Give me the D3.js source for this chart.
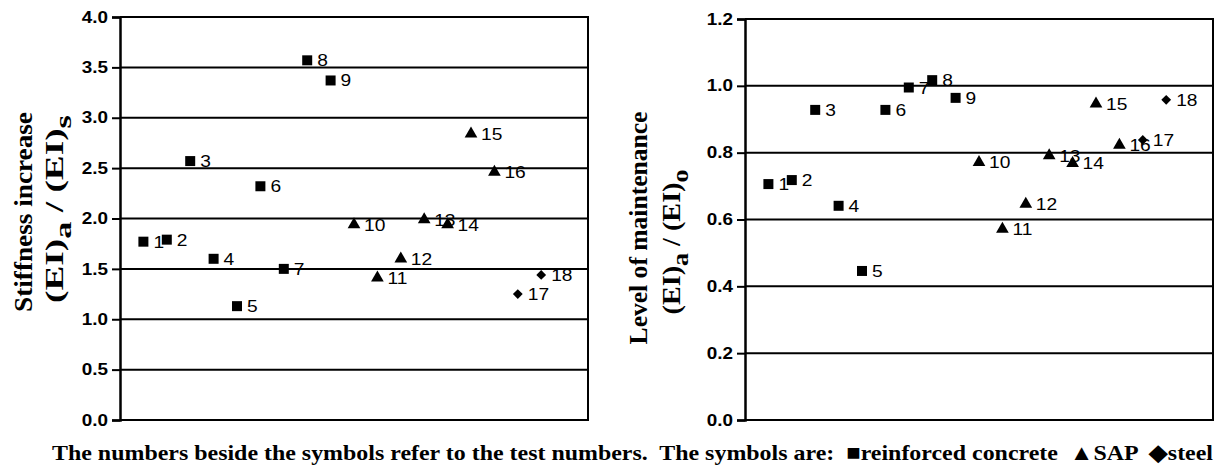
<!DOCTYPE html>
<html><head><meta charset="utf-8">
<script src="https://cdn.jsdelivr.net/npm/d3@7"></script>
<style>body{margin:0;background:#fff}svg{display:block}</style>
</head><body>
<script>
const tests = [1,2,3,4,5,6,7,8,9,10,11,12,13,14,15,16,17,18];
const materials = ["rc","rc","rc","rc","rc","rc","rc","rc","rc","sap","sap","sap","sap","sap","sap","sap","steel","steel"];
const stiffness = [1.77,1.79,2.57,1.60,1.13,2.32,1.50,3.57,3.37,1.94,1.41,1.60,1.99,1.94,2.84,2.46,1.25,1.44];
const maintenance = [0.706,0.718,0.928,0.641,0.446,0.928,0.995,1.017,0.964,0.771,0.571,0.646,0.791,0.768,0.946,0.823,0.838,0.958];
const leftTicks = [0,0.5,1.0,1.5,2.0,2.5,3.0,3.5,4.0];
const rightTicks = [0,0.2,0.4,0.6,0.8,1.0,1.2];
const caption = "The numbers beside the symbols refer to the test numbers.  The symbols are:  \u25A0reinforced concrete  \u25B2SAP  \u25C6steel";

const W = 1222, H = 468;
const svg = d3.select("body").append("svg").attr("width", W).attr("height", H);
const SANS = "Liberation Sans, Arial, sans-serif";
const SERIF = "Liberation Serif, Times New Roman, serif";

function fitRotated(sel, cx, cy, target){
  const w = sel.node().getBBox().width;
  sel.attr("transform", `translate(${cx},${cy}) rotate(-90) scale(${target/w},1)`);
}

function panel(opts){
  const g = svg.append("g");
  const x = d3.scaleLinear().domain([0,20]).range([opts.x0, opts.x1]);
  const y = d3.scaleLinear().domain(opts.domain).range([opts.y0, opts.y1]);
  g.selectAll("line.grid").data(opts.ticks).join("line")
    .attr("x1", opts.x0).attr("x2", opts.x1)
    .attr("y1", d=>y(d)).attr("y2", d=>y(d))
    .attr("stroke","#000").attr("stroke-width",2);
  g.append("line").attr("x1",opts.x1).attr("x2",opts.x1).attr("y1",y(opts.domain[1])-1).attr("y2",y(opts.domain[0])+1)
    .attr("stroke","#000").attr("stroke-width",2);
  const ax = g.append("g").attr("transform",`translate(${opts.x0},0)`)
    .call(d3.axisLeft(y).tickValues(opts.ticks).tickFormat(d3.format(".1f")).tickSize(8).tickPadding(4));
  ax.select(".domain").attr("stroke","#000").attr("stroke-width",2.5);
  ax.selectAll(".tick line").attr("stroke","#000").attr("stroke-width",2);
  ax.selectAll(".tick text").attr("font-family",SANS)
    .attr("font-size",16).attr("font-weight","bold").attr("fill","#000")
    .attr("x",null).attr("transform","translate(-12,0) scale(1.18,1)");
  const sym = {rc: d3.symbol().type(d3.symbolSquare).size(100),
               sap: d3.symbol().type(d3.symbolTriangle).size(70),
               steel: d3.symbol().type(d3.symbolSquare).size(48)};
  const pts = tests.map((t,i)=>({t, m: materials[i], v: opts.values[i]}));
  g.selectAll("path.pt").data(pts).join("path")
    .attr("d", d=>sym[d.m]())
    .attr("transform", d=>`translate(${x(d.t)},${y(d.v)})` + (d.m==="steel" ? " rotate(45)" : ""))
    .attr("fill","#000");
  g.selectAll("text.lbl").data(pts).join("text")
    .attr("transform", d=>`translate(${x(d.t)+10},${y(d.v)+6}) scale(1.2,1)`)
    .attr("font-family",SANS).attr("font-size",16)
    .attr("fill","#000").text(d=>d.t);
  // titles
  const l1 = g.append("text").attr("text-anchor","middle").attr("font-family",SERIF)
    .attr("font-weight","bold").attr("font-size",26).attr("fill","#000").text(opts.title1);
  fitRotated(l1, opts.t1x, opts.t1cy, opts.t1len);
  const l2 = g.append("text").attr("text-anchor","middle").attr("font-family",SERIF)
    .attr("font-weight","bold").attr("font-size",26).attr("fill","#000");
  l2.append("tspan").text("(EI)");
  l2.append("tspan").text("a").attr("dy",8).attr("font-size",24);
  l2.append("tspan").text(" / (EI)").attr("dy",-8);
  l2.append("tspan").text(opts.sub).attr("dy",8).attr("font-size",24);
  fitRotated(l2, opts.t2x, opts.t2cy, opts.t2len);
}

panel({x0:120, x1:588, y0:420, y1:17, domain:[0,4], ticks:leftTicks, values:stiffness,
       title1:"Stiffness increase", sub:"s",
       t1x:32, t1cy:212, t1len:200, t2x:63, t2cy:209, t2len:188});
panel({x0:745, x1:1213, y0:420, y1:19, domain:[0,1.2], ticks:rightTicks, values:maintenance,
       title1:"Level of maintenance", sub:"o",
       t1x:647, t1cy:228, t1len:233, t2x:680, t2cy:242, t2len:145});

svg.append("text").attr("x", 52).attr("y", 460)
  .attr("font-family",SERIF).attr("font-weight","bold")
  .attr("font-size",22).attr("fill","#000").attr("xml:space","preserve")
  .attr("textLength",1161).attr("lengthAdjust","spacingAndGlyphs")
  .text(caption);
</script>
</body></html>
